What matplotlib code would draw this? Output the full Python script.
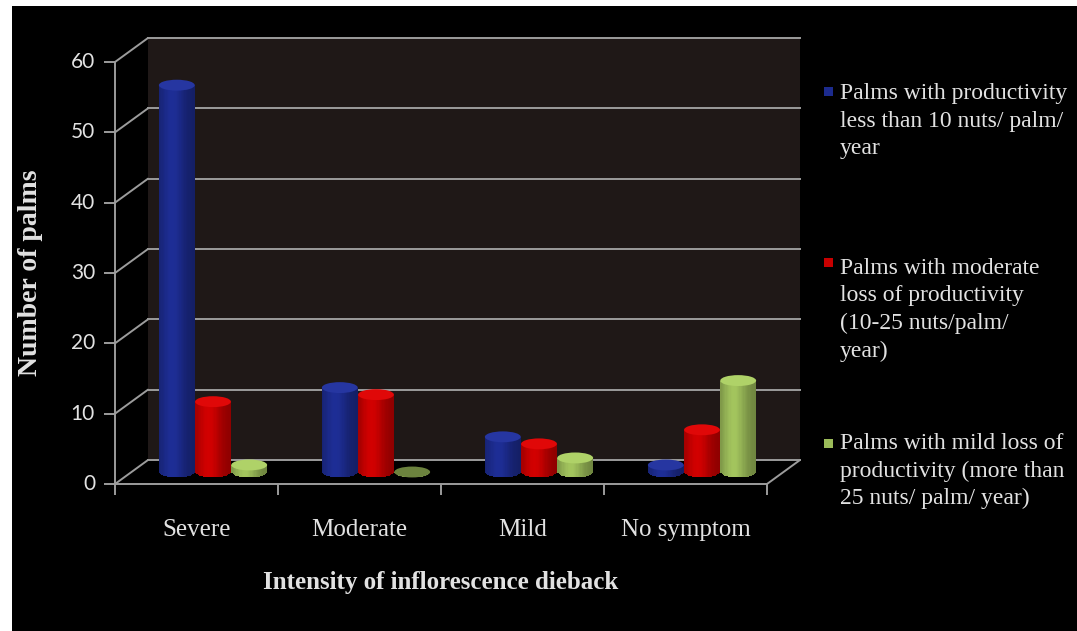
import matplotlib
matplotlib.use("Agg")
import matplotlib.pyplot as plt
import numpy as np
from matplotlib.patches import Rectangle, Ellipse, ConnectionPatch
from matplotlib.transforms import Affine2D
from matplotlib.colors import to_rgb
from matplotlib import markers

# number of palms per dieback class, split by productivity group
categories = ["Severe", "Moderate", "Mild", "No symptom"]
low_prod = [55, 12, 5, 1]        # < 10 nuts/palm/year
moderate_loss = [10, 11, 4, 6]   # 10-25 nuts/palm/year
mild_loss = [1, 0, 2, 13]        # > 25 nuts/palm/year
series = [low_prod, moderate_loss, mild_loss]
series_labels = [
    "Palms with productivity\nless than 10 nuts/ palm/\nyear",
    "Palms with moderate\nloss of productivity\n(10-25 nuts/palm/\nyear)",
    "Palms with mild loss of\nproductivity (more than\n25 nuts/ palm/ year)",
]
series_colors = ["#1c2b8e", "#c80000", "#9bbb59"]
y_ticks = [0, 10, 20, 30, 40, 50, 60]

W, H = 1077, 631
fig = plt.figure(figsize=(W / 100, H / 100), dpi=100)
fig.patch.set_facecolor("black")

ax = fig.add_axes([115 / W, 147 / H, 652 / W, 422 / H])
ax.set_xlim(0, len(categories))
ax.set_ylim(0, 60)
ax.axis("off")

# pseudo-3d: shift things backwards by a pixel offset
DX, DY = 33, 24


def depth(d):
    return ax.transData + Affine2D().translate(DX * d, DY * d)


grid_col = "#9c9c9c"
txt_col = "#e2e2e2"

# back wall + gridlines
ax.add_patch(Rectangle((0, 0), len(categories), 60, transform=depth(1),
                       facecolor="#1f1817", edgecolor="none", zorder=0, clip_on=False))
for v in y_ticks:
    ax.plot([0, len(categories)], [v, v], transform=depth(1), color=grid_col,
            lw=1.4, clip_on=False, zorder=1)
    ax.add_artist(ConnectionPatch((0, v), (0, v), coordsA=depth(0), coordsB=depth(1),
                                  color=grid_col, lw=1.4, zorder=1))
ax.add_artist(ConnectionPatch((len(categories), 0), (len(categories), 0),
                              coordsA=depth(0), coordsB=depth(1),
                              color=grid_col, lw=1.4, zorder=1))

# front axes with tick marks
ax.plot([0, 0], [0, 60], transform=depth(0), color=grid_col, lw=1.4, clip_on=False, zorder=5)
ax.plot([0] * len(y_ticks), y_ticks, transform=depth(0), ls="none",
        marker=markers.TICKLEFT, ms=8, mew=1.4, color=grid_col, clip_on=False, zorder=5)
ax.plot([0, len(categories)], [0, 0], transform=depth(0), color=grid_col, lw=1.4,
        clip_on=False, zorder=5)
ax.plot(range(len(categories) + 1), [0] * (len(categories) + 1), transform=depth(0),
        ls="none", marker=markers.TICKDOWN, ms=8, mew=1.4, color=grid_col,
        clip_on=False, zorder=5)

# cylinders
bw = 0.22
eh = 1.55
nstrip = 28
u = np.linspace(-1, 1, nstrip + 1)
uc = (u[:-1] + u[1:]) / 2
shade = 0.7 + 0.35 * np.exp(-((uc + 0.25) / 0.7) ** 2)

for j, vals in enumerate(series):
    base = np.array(to_rgb(series_colors[j]))
    for i, v in enumerate(vals):
        cx = i + 0.5 + (j - 1) * 0.222
        tr = depth(0.5)
        for k in range(nstrip):
            x0 = cx - bw / 2 + k * bw / nstrip
            ybot = -eh / 2 * np.sqrt(max(0.0, 1 - uc[k] ** 2))
            col = np.clip(base * shade[k], 0, 1)
            ax.add_patch(Rectangle((x0, ybot), bw / nstrip * 1.08, v - ybot,
                                   transform=tr, facecolor=col, edgecolor="none",
                                   zorder=3 + j, clip_on=False))
        top = np.clip(base * 1.08 + 0.03, 0, 1) if v > 0 else base * 0.7
        ax.add_patch(Ellipse((cx, v), bw, eh, transform=tr, facecolor=top,
                             edgecolor="none", zorder=3 + j, clip_on=False))

# tick labels and axis titles
for v in y_ticks:
    ax.annotate(str(v), (0, v), xytext=(-20, 0), textcoords="offset pixels",
                ha="right", va="center", color=txt_col, fontsize=15,
                family="Lato", annotation_clip=False)
for i, c in enumerate(categories):
    ax.annotate(c, (i + 0.5, 0), xytext=(0, -46), textcoords="offset pixels",
                ha="center", va="center", color=txt_col, fontsize=18,
                family="Liberation Serif", annotation_clip=False)
ax.annotate("Intensity of inflorescence dieback", (2, 0), xytext=(0, -99),
            textcoords="offset pixels", ha="center", va="center", color=txt_col,
            fontsize=18, fontweight="bold", family="Liberation Serif",
            annotation_clip=False)
ax.annotate("Number of palms", (0, 30), xytext=(-85, 0), textcoords="offset pixels",
            ha="center", va="center", rotation=90, color=txt_col, fontsize=20,
            fontweight="bold", family="Liberation Serif", annotation_clip=False)

# legend
leg_y = [121, 310, 471]
key_y = [91, 262, 443]
for lab, col, ly, ky in zip(series_labels, series_colors, leg_y, key_y):
    fig.text(840 / W, 1 - ly / H, lab, ha="left", va="center", color=txt_col,
             fontsize=17, family="Liberation Serif", linespacing=1.42)
    fig.patches.append(Rectangle((824 / W, 1 - (ky + 5) / H), 9 / W, 9 / H,
                                 transform=fig.transFigure, facecolor=col,
                                 edgecolor="none"))

# white border strips at top and left
fig.patches.append(Rectangle((0, 1 - 6 / H), 1, 6 / H, transform=fig.transFigure,
                             facecolor="white", edgecolor="none"))
fig.patches.append(Rectangle((0, 0), 12 / W, 1, transform=fig.transFigure,
                             facecolor="white", edgecolor="none"))

fig.savefig("out.png", dpi=100, facecolor=fig.get_facecolor())
